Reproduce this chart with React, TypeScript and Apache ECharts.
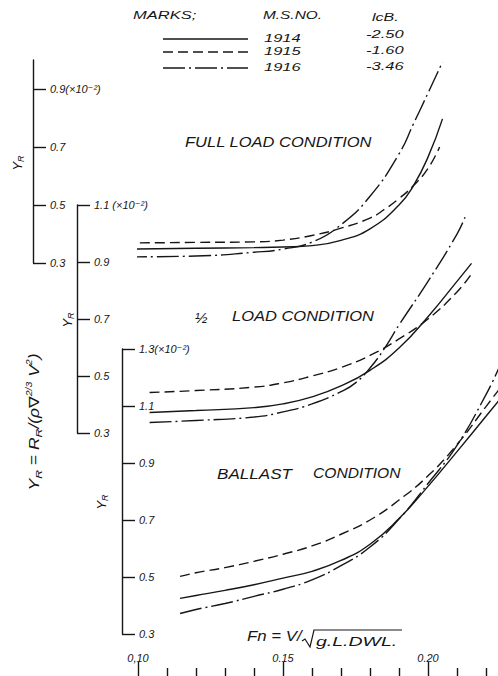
import React, { useEffect, useRef } from "react";
import * as echarts from "echarts";

// ---- Froude number axis ----
const fnMin = 0.1;
const fnMax = 0.25;
const fnInterval = 0.05;
const fnTicks = [0.1, 0.15, 0.2];
const fnTickLabels = ["0,10", "0.15", "0.20"];

// ---- legend ----
const legendHeaders = ["MARKS;", "M.S.NO.", "lcB."];
const modelNames = ["1914", "1915", "1916"];
const lcbValues = ["-2.50", "-1.60", "-3.46"];

// ---- condition titles ----
const conditionTitles = ["FULL LOAD CONDITION", "LOAD CONDITION", "BALLAST", "CONDITION"];

// ---- residuary resistance coefficient axes (×10⁻²) ----
const fullRange = [0.3, 1.0];
const fullTicks = [0.3, 0.5, 0.7, 0.9];
const fullTickLabels = ["0.3", "0.5", "0.7", "0.9(×10⁻²)"];

const halfRange = [0.3, 1.1];
const halfTicks = [0.3, 0.5, 0.7, 0.9, 1.1];
const halfTickLabels = ["0.3", "0.5", "0.7", "0.9", "1.1 (×10⁻²)"];

const ballastRange = [0.3, 1.3];
const ballastTicks = [0.3, 0.5, 0.7, 0.9, 1.1, 1.3];
const ballastTickLabels = ["0.3", "0.5", "0.7", "0.9", "1.1", "1.3(×10⁻²)"];

// ---- full load condition ----
const full1914Fn = [0.0955, 0.12, 0.14, 0.15, 0.16, 0.17, 0.18, 0.19, 0.195, 0.2, 0.205];
const full1914 = [0.348, 0.351, 0.353, 0.355, 0.36, 0.378, 0.418, 0.5, 0.567, 0.665, 0.797];
const full1915Fn = [0.0955, 0.12, 0.14, 0.15, 0.16, 0.17, 0.18, 0.185, 0.19, 0.195, 0.2, 0.204];
const full1915 = [0.369, 0.371, 0.373, 0.379, 0.395, 0.42, 0.455, 0.485, 0.522, 0.567, 0.626, 0.7];
const full1916Fn = [0.0955, 0.12, 0.14, 0.15, 0.16, 0.17, 0.18, 0.19, 0.195, 0.2, 0.205];
const full1916 = [0.321, 0.324, 0.337, 0.348, 0.372, 0.432, 0.53, 0.676, 0.78, 0.886, 0.993];

// ---- 1/2 load condition ----
const half1914Fn = [0.104, 0.12, 0.14, 0.15, 0.16, 0.17, 0.18, 0.19, 0.2, 0.21, 0.215];
const half1914 = [0.372, 0.379, 0.389, 0.402, 0.427, 0.465, 0.52, 0.598, 0.708, 0.832, 0.895];
const half1915Fn = [0.104, 0.12, 0.14, 0.15, 0.16, 0.17, 0.18, 0.19, 0.2, 0.21, 0.215];
const half1915 = [0.442, 0.449, 0.461, 0.476, 0.5, 0.53, 0.572, 0.63, 0.7, 0.795, 0.858];
const half1916Fn = [0.104, 0.12, 0.14, 0.15, 0.16, 0.17, 0.175, 0.18, 0.185, 0.19, 0.2, 0.21, 0.213];
const half1916 = [0.337, 0.344, 0.356, 0.374, 0.402, 0.445, 0.476, 0.528, 0.597, 0.679, 0.832, 0.998, 1.063];

// ---- ballast condition ----
const ball1914Fn = [0.1145, 0.12, 0.13, 0.14, 0.15, 0.16, 0.17, 0.18, 0.19, 0.2, 0.21, 0.22, 0.2245];
const ball1914 = [0.425, 0.435, 0.453, 0.473, 0.496, 0.52, 0.558, 0.615, 0.705, 0.818, 0.94, 1.064, 1.12];
const ball1915Fn = [0.1145, 0.12, 0.13, 0.14, 0.15, 0.16, 0.17, 0.18, 0.19, 0.2, 0.21, 0.22, 0.2245];
const ball1915 = [0.502, 0.515, 0.533, 0.555, 0.58, 0.609, 0.65, 0.7, 0.77, 0.855, 0.965, 1.098, 1.158];
const ball1916Fn = [0.1145, 0.12, 0.13, 0.14, 0.15, 0.16, 0.17, 0.18, 0.19, 0.2, 0.21, 0.22, 0.2245];
const ball1916 = [0.372, 0.386, 0.407, 0.432, 0.457, 0.49, 0.54, 0.605, 0.703, 0.828, 0.962, 1.14, 1.235];

const ink = "#161616";
const font = "'Liberation Sans', 'DejaVu Sans', sans-serif";

// line pattern for each model: solid, dashed, long dash - dot
const dashPatterns: any[] = ["solid", [10, 5], [22, 4, 2, 4]];

const labelFor = (ticks: number[], labels: string[]) => (v: number) => {
  const i = ticks.findIndex((t) => Math.abs(t - v) < 1e-6);
  return i >= 0 ? labels[i] : "";
};

const yAxisFor = (gi: number, range: number[], ticks: number[], labels: string[], offset: number) => ({
  type: "value",
  gridIndex: gi,
  position: "left",
  offset,
  min: range[0],
  max: range[1],
  axisLine: { show: true, onZero: false, lineStyle: { color: ink, width: 1.4 } },
  axisTick: { show: true, inside: true, length: 13, customValues: ticks, lineStyle: { color: ink, width: 1.4 } },
  axisLabel: {
    show: true,
    inside: true,
    margin: 17,
    customValues: ticks,
    formatter: labelFor(ticks, labels),
    color: ink,
    fontSize: 11,
    fontStyle: "italic",
    fontFamily: font,
  },
  splitLine: { show: false },
});

// The Fn scale sits on its own strip along the bottom edge, ticks pointing up.
const fnAxis = {
  type: "value",
  gridIndex: 3,
  min: fnMin,
  max: fnMax,
  interval: fnInterval,
  position: "bottom",
  axisLine: { show: false, onZero: false },
  axisTick: { show: true, inside: true, length: 14, lineStyle: { color: ink, width: 1.4 } },
  minorTick: { show: true, splitNumber: 5, length: 8, lineStyle: { color: ink, width: 1.4 } },
  axisLabel: {
    show: true,
    inside: true,
    margin: 13,
    formatter: labelFor(fnTicks, fnTickLabels),
    color: ink,
    fontSize: 11,
    fontStyle: "italic",
    fontFamily: font,
  },
  splitLine: { show: false },
  minorSplitLine: { show: false },
};

const hiddenX = (gi: number) => ({ type: "value", gridIndex: gi, min: fnMin, max: fnMax, show: false, splitLine: { show: false } });

const curves = [
  { gi: 0, k: 0, fn: full1914Fn, v: full1914 },
  { gi: 0, k: 1, fn: full1915Fn, v: full1915 },
  { gi: 0, k: 2, fn: full1916Fn, v: full1916 },
  { gi: 1, k: 0, fn: half1914Fn, v: half1914 },
  { gi: 1, k: 1, fn: half1915Fn, v: half1915 },
  { gi: 1, k: 2, fn: half1916Fn, v: half1916 },
  { gi: 2, k: 0, fn: ball1914Fn, v: ball1914 },
  { gi: 2, k: 1, fn: ball1915Fn, v: ball1915 },
  { gi: 2, k: 2, fn: ball1916Fn, v: ball1916 },
];

const txt = (text: string, x: number, y: number, size: number, opts: any = {}) => ({
  type: "text",
  x,
  y,
  scaleX: opts.scaleX ?? 1,
  rotation: opts.rotation ?? 0,
  silent: true,
  style: {
    text,
    fill: ink,
    fontSize: size,
    fontFamily: font,
    fontStyle: "italic",
    align: opts.align ?? "left",
    verticalAlign: "middle",
    rich: opts.rich,
  },
});

const subRich = (size: number) => ({
  m: { fontSize: size, fontFamily: font, fontStyle: "italic", fill: ink, lineHeight: size + 4 },
  s: { fontSize: size * 0.7, fontFamily: font, fontStyle: "italic", fill: ink, verticalAlign: "bottom" },
  p: { fontSize: size * 0.6, fontFamily: font, fontStyle: "italic", fill: ink, verticalAlign: "top" },
});

export default function App() {
  const ref = useRef<HTMLDivElement>(null);

  useEffect(() => {
    if (!ref.current) return;
    const chart = echarts.init(ref.current, null, { renderer: "svg" });

    const legendRows = [39, 52, 68];
    const graphic: any[] = [
      txt(legendHeaders[0], 133, 15, 11, { scaleX: 1.5 }),
      txt(legendHeaders[1], 263, 15, 11, { scaleX: 1.4 }),
      txt(legendHeaders[2], 372, 17, 11, { scaleX: 1.45 }),
      ...legendRows.flatMap((y, k) => [
        {
          type: "line",
          silent: true,
          shape: { x1: 163, y1: y, x2: 248, y2: y },
          style: {
            stroke: ink,
            lineWidth: 1.4,
            lineDash: k === 0 ? null : dashPatterns[k],
          },
        },
        txt(modelNames[k], 264, y - 1, 11, { scaleX: 1.5 }),
        txt(lcbValues[k], 366, y - (k === 0 ? 5 : 2), 11, { scaleX: 1.5 }),
      ]),
      // condition titles
      txt(conditionTitles[0], 185, 142, 15, { scaleX: 1.1 }),
      txt("½", 195, 317, 15),
      txt(conditionTitles[1], 232, 316, 15, { scaleX: 1.1 }),
      txt(conditionTitles[2], 217, 473, 15, { scaleX: 1.14 }),
      txt(conditionTitles[3], 313, 473, 15, { scaleX: 1.04 }),
      // axis titles
      txt("{m|Y}{s|R}", 17, 163, 13, { rotation: Math.PI / 2, align: "center", rich: subRich(13) }),
      txt("{m|Y}{s|R}", 67, 320, 13, { rotation: Math.PI / 2, align: "center", rich: subRich(13) }),
      txt("{m|Y}{s|R}", 101, 502, 13, { rotation: Math.PI / 2, align: "center", rich: subRich(13) }),
      txt(
        "{m|Y}{s|R}{m| = R}{s|R}{m|/(ρ∇}{p|2/3}{m| V}{p|2}{m|)}",
        34,
        422,
        14,
        { rotation: Math.PI / 2, align: "center", scaleX: 1.25, rich: subRich(14) }
      ),
      // Froude number title
      txt("Fn = V/", 247, 636, 15, { scaleX: 1.12 }),
      {
        type: "polyline",
        silent: true,
        shape: { points: [[302, 641], [305, 639], [310, 647], [314, 630], [402, 630]] },
        style: { stroke: ink, lineWidth: 1.2, fill: null },
      },
      txt("g.L.DWL.", 316, 642, 13, { scaleX: 1.5 }),
    ];

    const gridBase = { left: 138, width: 435, outerBoundsMode: "none", containLabel: false };

    chart.setOption({
      animation: false,
      backgroundColor: "#ffffff",
      textStyle: { fontFamily: font },
      grid: [
        { ...gridBase, top: 60, height: 203 },
        { ...gridBase, top: 205, height: 228 },
        { ...gridBase, top: 349, height: 285 },
        { ...gridBase, top: 640, height: 36 },
      ],
      xAxis: [hiddenX(0), hiddenX(1), hiddenX(2), fnAxis],
      yAxis: [
        yAxisFor(0, fullRange, fullTicks, fullTickLabels, 105),
        yAxisFor(1, halfRange, halfTicks, halfTickLabels, 61),
        yAxisFor(2, ballastRange, ballastTicks, ballastTickLabels, 16),
        { type: "value", gridIndex: 3, min: 0, max: 1, show: false, splitLine: { show: false } },
      ],
      series: curves.map((c) => ({
        type: "line",
        name: modelNames[c.k],
        xAxisIndex: c.gi,
        yAxisIndex: c.gi,
        data: c.fn.map((f, i) => [f, c.v[i]]),
        showSymbol: false,
        symbol: "none",
        smooth: 0.5,
        clip: false,
        silent: true,
        lineStyle: { color: ink, width: 1.4, type: dashPatterns[c.k], cap: "butt" },
      })),
      graphic,
    });

    return () => chart.dispose();
  }, []);

  return (
    <div
      ref={ref}
      style={{ position: "fixed", left: 0, top: 0, width: 498, height: 676, background: "#fff" }}
    />
  );
}
